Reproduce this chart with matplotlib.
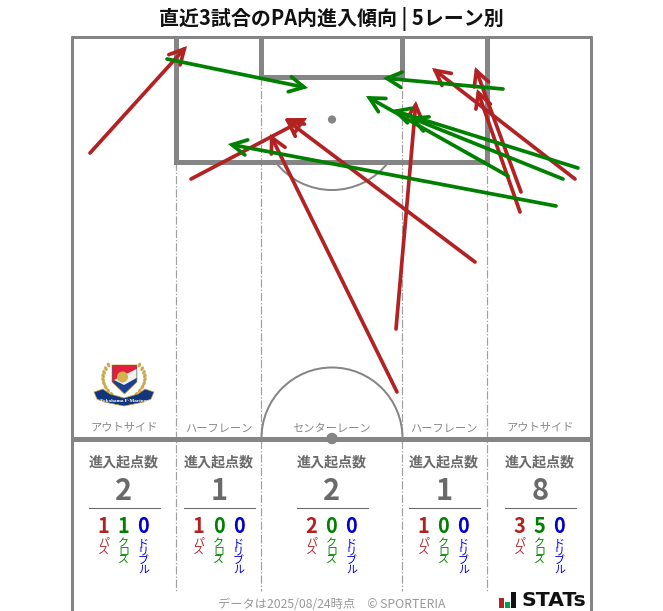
import matplotlib
matplotlib.use('Agg')
import matplotlib.pyplot as plt
from matplotlib.patches import Arc, Circle, Polygon, Rectangle, Ellipse
import numpy as np

plt.rcParams['font.family'] = ['Noto Sans CJK JP', 'DejaVu Sans']

TITLE = '直近3試合のPA内進入傾向 | 5レーン別'
lanes = ['アウトサイド', 'ハーフレーン', 'センターレーン', 'ハーフレーン', 'アウトサイド']
lane_x = [124, 219, 332, 444, 540]
totals = [2, 1, 2, 1, 8]
passes = [1, 1, 2, 1, 3]
crosses = [1, 0, 0, 0, 5]
dribbles = [0, 0, 0, 0, 0]
kind_labels = ['パス', 'クロス', 'ドリブル']
kind_colors = ['#b22222', '#008000', '#0000cd']

# entries as (x0, y0, x1, y1) on the pitch image
pass_arrows = [(90, 153, 187, 46), (191, 179, 307, 118), (475, 262, 285, 119),
               (397, 392, 270, 134), (396, 329, 416, 101), (575, 179, 432, 68),
               (521, 192, 475, 67), (520, 212, 477, 89)]
cross_arrows = [(167, 59, 308, 88), (503, 89, 383, 78), (578, 168, 392, 110),
                (563, 179, 409, 117), (508, 176, 366, 96), (556, 206, 228, 144)]

W, H = 663, 611
fig = plt.figure(figsize=(W / 100, H / 100), dpi=100)
ax = fig.add_axes([0, 0, 1, 1])
ax.set_xlim(0, W)
ax.set_ylim(H, 0)
ax.axis('off')

G = '#858585'
px = 0.72
DASH = (0, (7, 1.6, 1.2, 1.6))
# lane dividers
for x in (175.5, 486.5):
    ax.plot([x, x], [162, 591], color='#a0a0a0', lw=0.85, ls=DASH, zorder=1)
for x in (260.5, 401.5):
    ax.plot([x, x], [77, 591], color='#a0a0a0', lw=0.85, ls=DASH, zorder=1)

# pitch outline
ax.plot([72, 72], [36, 611], color=G, lw=3 * px, solid_capstyle='butt', zorder=2)
ax.plot([591, 591], [36, 611], color=G, lw=3 * px, solid_capstyle='butt', zorder=2)
ax.plot([71, 592], [37, 37], color=G, lw=3 * px, solid_capstyle='butt', zorder=2)
ax.plot([71, 592], [438.5, 438.5], color=G, lw=5 * px, solid_capstyle='butt', zorder=2)
# penalty box / goal area
ax.plot([176, 176, 487, 487], [37, 162, 162, 37], color=G, lw=5 * px,
        solid_joinstyle='miter', solid_capstyle='butt', zorder=2)
ax.plot([261, 261, 402, 402], [37, 77, 77, 37], color=G, lw=5 * px,
        solid_joinstyle='miter', solid_capstyle='butt', zorder=2)
# spots, arcs (image y axis points down, so angles run clockwise on screen)
ax.add_patch(Circle((332, 119.5), 3.4, color=G, zorder=2))
ax.add_patch(Circle((332, 438.5), 5, color=G, zorder=2))
ax.add_patch(Arc((332, 119), 142, 142, theta1=37, theta2=143, color=G, lw=2 * px, zorder=2))
ax.add_patch(Arc((332, 438), 141, 141, theta1=180, theta2=360, color=G, lw=2 * px, zorder=2))


def draw(arrows, color):
    for x0, y0, x1, y1 in arrows:
        ax.annotate('', xy=(x1, y1), xytext=(x0, y0), zorder=4,
                    arrowprops=dict(arrowstyle='->,head_length=1.05,head_width=0.55',
                                    mutation_scale=10, color=color, lw=3.7 * px,
                                    shrinkA=0, shrinkB=0, capstyle='round', joinstyle='miter'))


draw(pass_arrows, kind_colors[0])
draw(cross_arrows, kind_colors[1])

# texts
ax.text(331, 19, TITLE, ha='center', va='center', fontsize=20 * px, fontweight='bold', color='#111111')
TG = '#6a6a6a'
LABEL_PX = 11
for i, x in enumerate(lane_x):
    ax.text(x, 428.5, lanes[i], ha='center', va='center', fontsize=11.2 * px, color='#888888')
    ax.text(x, 462, '進入起点数', ha='center', va='center', fontsize=14 * px, fontweight='bold', color=TG)
    ax.text(x, 491.5, str(totals[i]), ha='center', va='center', fontsize=29 * px, fontweight='bold', color=TG)
    ax.plot([x - 35.5, x + 35.5], [508, 508], color=TG, lw=1.1 * px, zorder=2)
    vals = [passes[i], crosses[i], dribbles[i]]
    for j, dx in enumerate((-20.5, -0.5, 19.5)):
        ax.text(x + dx, 526.5, str(vals[j]), ha='center', va='center', fontsize=20 * px,
                fontweight='bold', color=kind_colors[j])
        ax.text(x + dx - LABEL_PX / 2, 538, '\n'.join(kind_labels[j]), ha='left', va='top',
                multialignment='left', fontsize=LABEL_PX * px, color=kind_colors[j], linespacing=0.86)

ax.text(331.5, 604, 'データは2025/08/24時点　© SPORTERIA', ha='center', va='center',
        fontsize=12.2 * px, color='#999999')

# STATs mark
for bx, by, bh, c in zip((499, 505, 511), (598, 602, 592), (10, 6, 16), ('#b22222', '#00a050', '#111111')):
    ax.add_patch(Rectangle((bx, by), 4.6, bh, color=c, lw=0, zorder=3))
ax.text(554, 600, 'STATs', ha='center', va='center', fontsize=20.5 * px, fontweight='bold',
        color='#111111', family='DejaVu Sans')

# club crest
for side in (-1, 1):
    t = np.linspace(0.0, 1.0, 10)
    lx = 124 + side * (6 + 15 * np.sin(t * 2.6) ** 0.7)
    ly = 398 - 33 * t
    for a, b in zip(lx, ly):
        ax.add_patch(Ellipse((a, b), 3.2, 5, angle=side * 25, color='#c9a94f', lw=0, zorder=3))
ax.add_patch(Polygon([(112, 365), (137, 365), (137, 382), (124.5, 394), (112, 382)],
                     closed=True, facecolor='#1a3f94', edgecolor='#c9a227', lw=0.5, zorder=3))
ax.add_patch(Polygon([(112.5, 365.5), (136.5, 365.5), (136.5, 369), (112.5, 382)],
                     closed=True, facecolor='#e0203c', lw=0, zorder=3))
ax.add_patch(Polygon([(136.5, 369), (136.5, 378), (124, 385), (114, 380)],
                     closed=True, facecolor='#f0f0f0', lw=0, zorder=3))
ax.add_patch(Circle((122.5, 377), 5.5, color='#d4b24c', lw=0, zorder=3))
ax.add_patch(Polygon([(94, 392), (103, 389), (110, 394), (124, 398), (138, 394), (145, 389), (154, 392),
                      (151, 399), (144, 402), (124, 406), (104, 402), (97, 399)],
                     closed=True, facecolor='#12357f', edgecolor='#c9a227', lw=0.5, zorder=4))
ax.text(124, 400.5, 'Yokohama F·Marinos', ha='center', va='center', fontsize=3.7, color='white',
        family='Liberation Serif', fontweight='bold', zorder=5)

fig.savefig('out.png', dpi=100)
